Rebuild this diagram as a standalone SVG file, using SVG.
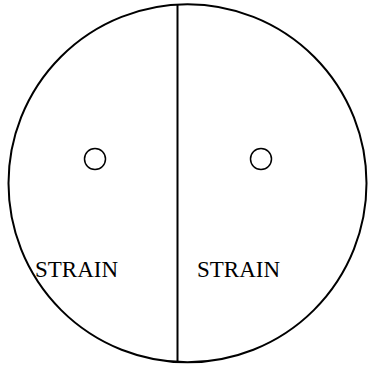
<svg xmlns="http://www.w3.org/2000/svg" width="368" height="365" viewBox="0 0 368 365">
<style>
.ln{fill:none;stroke:#000;stroke-width:2}
.sm{fill:none;stroke:#000;stroke-width:1.5}
.t{font-family:"Liberation Serif","Times New Roman",serif;font-size:23px;fill:#000}
</style>
<rect width="368" height="365" fill="#fff"/>
<g id="plate"><circle class="ln" cx="187.5" cy="183.3" r="179"/></g>
<g id="connectors"><line class="ln" x1="177.5" y1="4.5" x2="177.5" y2="362"/></g>
<g id="left"><circle class="sm" cx="95" cy="159" r="10.5"/><text class="t" x="35" y="277">STRAIN</text></g>
<g id="right"><circle class="sm" cx="261" cy="159" r="10.5"/><text class="t" x="197" y="277">STRAIN</text></g>
</svg>
